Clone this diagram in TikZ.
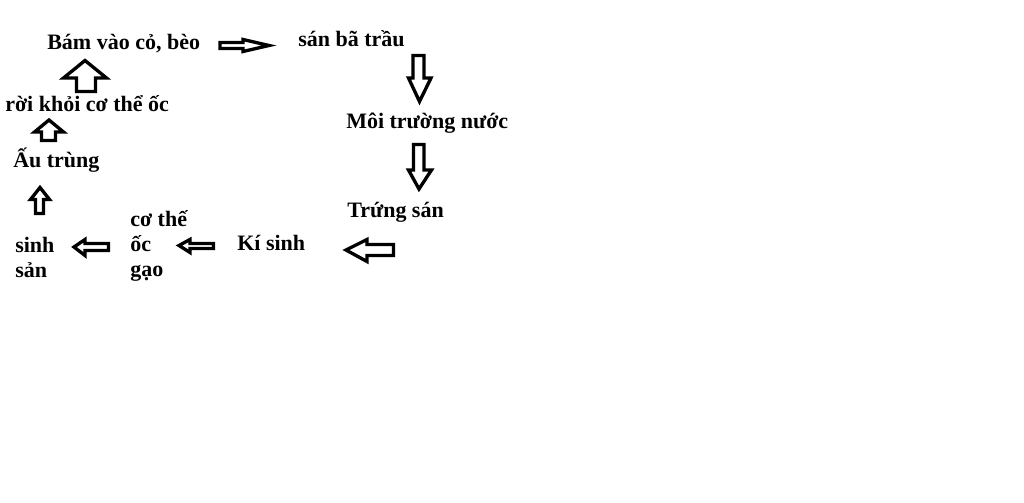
\documentclass[tikz,border=0pt]{standalone}
\usepackage{fontspec}
\setmainfont{Liberation Serif}
\begin{document}
\begin{tikzpicture}[x=0.75pt,y=-0.75pt,
  lbl/.style={anchor=base west, inner sep=0pt, font=\fontsize{16.5pt}{18.75pt}\selectfont\bfseries, align=left},
  barrow/.style={draw=black, line width=2.5pt, line join=miter, fill=white}]
\useasboundingbox (0,0) rectangle (1024,503);
\fill[white] (0,0) rectangle (1024,503);
% labels (multi-line nodes are anchored at the baseline of their last line)
\node[lbl] (bam) at (47,50) {Bám vào cỏ, bèo};
\node[lbl] (san) at (298,47) {sán bã trầu};
\node[lbl] (moi) at (346,128) {Môi trường nước};
\node[lbl] (trung) at (347,217) {Trứng sán};
\node[lbl] (ki) at (237,250) {Kí sinh};
\node[lbl] (co) at (130,276) {cơ thế\\ốc\\gạo};
\node[lbl] (sinh) at (15,277) {sinh\\sản};
\node[lbl] (au) at (13,167) {Ấu trùng};
\node[lbl] (roi) at (5,112) {rời khỏi cơ thể ốc};
% block arrows
% right: Bam -> san
\draw[barrow] (220,42.5) -- (243,42.5) -- (243,39.5) -- (269,45.5) -- (243,51.5) -- (243,48.5) -- (220,48.5) -- cycle;
% down: san -> moi
\draw[barrow] (413,55.5) -- (424,55.5) -- (424,78) -- (431,78) -- (419.5,101.5) -- (408.5,78) -- (413,78) -- cycle;
% down: moi -> trung
\draw[barrow] (413.5,144.5) -- (424,144.5) -- (424,170) -- (431.5,170) -- (419,189) -- (408.5,170) -- (413.5,170) -- cycle;
% left: trung -> ki
\draw[barrow] (393.5,244.5) -- (367,244.5) -- (367,239.5) -- (346,250) -- (367,261.5) -- (367,255.5) -- (393.5,255.5) -- cycle;
% left: ki -> co
\draw[barrow] (213.5,243.5) -- (190,243.5) -- (190,239.5) -- (179,245.5) -- (190,252.5) -- (190,248.5) -- (213.5,248.5) -- cycle;
% left: co -> sinh
\draw[barrow] (108.5,243.5) -- (85,243.5) -- (85,239.5) -- (74,247) -- (85,255.5) -- (85,250.5) -- (108.5,250.5) -- cycle;
% up: sinh -> au
\draw[barrow] (35.5,213.5) -- (35.5,199.5) -- (30.5,199.5) -- (40,187.5) -- (49.5,199.5) -- (43.5,199.5) -- (43.5,213.5) -- cycle;
% up: au -> roi
\draw[barrow] (41.5,140.5) -- (41.5,132) -- (34.5,132) -- (49,120) -- (63.5,132) -- (55.5,132) -- (55.5,140.5) -- cycle;
% up: roi -> bam
\draw[barrow] (76.5,91.5) -- (76.5,78) -- (63.5,78) -- (85,60.5) -- (106.5,78) -- (95.5,78) -- (95.5,91.5) -- cycle;
\end{tikzpicture}
\end{document}
